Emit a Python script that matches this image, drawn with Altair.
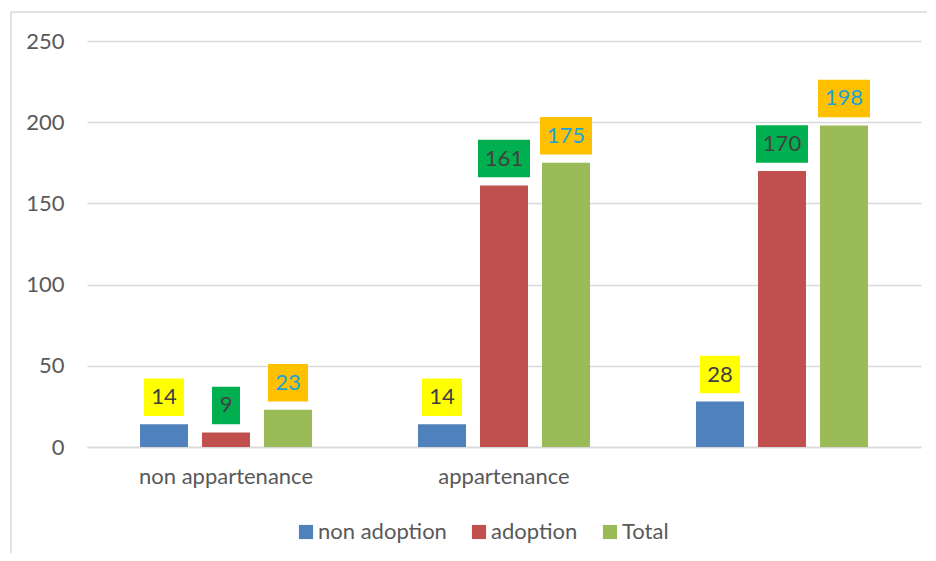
import altair as alt
import pandas as pd

categories = ["non appartenance", "appartenance", ""]
series = ["non adoption", "adoption", "Total"]
non_adoption = [14, 14, 28]
adoption = [9, 161, 170]
total = [23, 175, 198]

bar_colors = ["#4F81BD", "#C0504D", "#9BBB59"]
box_colors = ["#FFFF00", "#00B050", "#FFC000"]

rows = []
for s, vals in zip(series, [non_adoption, adoption, total]):
    for c, v in zip(categories, vals):
        txt = str(v)
        w = 16 + 12 * len(txt)
        h = 37.5
        r = h / w
        rows.append({
            "category": c, "series": s, "value": v, "label": txt,
            "shape": f"M-1,-{r:.4f} L1,-{r:.4f} L1,{r:.4f} L-1,{r:.4f} Z",
            "size": w * w,
        })
df = pd.DataFrame(rows)

FONT = "Lato"
GRID = "#D9D9D9"
FS = 22

x_enc = alt.X("category:N", sort=categories, title=None,
              scale=alt.Scale(paddingInner=0.331, paddingOuter=0.1655),
              axis=alt.Axis(labelAngle=0, ticks=False, domainColor=GRID, domainWidth=1.5,
                            labelFontSize=FS, labelColor="#595959", labelFont=FONT,
                            labelPadding=19, grid=False))
xo_enc = alt.XOffset("series:N", sort=series,
                     scale=alt.Scale(paddingInner=0.226, paddingOuter=0.113))
y_enc = alt.Y("value:Q", title=None,
              scale=alt.Scale(domain=[0, 250], nice=False),
              axis=alt.Axis(values=[0, 50, 100, 150, 200, 250], ticks=False, domain=False,
                            gridColor=GRID, gridWidth=1.5, labelFontSize=FS,
                            labelColor="#595959", labelFont=FONT, labelPadding=23))

bars = alt.Chart(df).mark_bar().encode(
    x=x_enc, xOffset=xo_enc, y=y_enc,
    color=alt.Color("series:N", sort=series,
                    scale=alt.Scale(domain=series, range=bar_colors),
                    legend=alt.Legend(title=None, orient="none", direction="horizontal",
                                      legendX=208, legendY=480,
                                      symbolType="square", symbolSize=200,
                                      symbolStrokeWidth=0, labelFontSize=FS,
                                      labelFont=FONT, labelColor="#595959",
                                      labelOffset=1, columnPadding=21)),
)

boxes = alt.Chart(df).mark_point(filled=True, opacity=1, yOffset=-27, strokeWidth=0).encode(
    x=alt.X("category:N", sort=categories),
    xOffset=alt.XOffset("series:N", sort=series),
    y=alt.Y("value:Q"),
    fill=alt.Fill("series:N", sort=series,
                  scale=alt.Scale(domain=series, range=box_colors), legend=None),
    shape=alt.Shape("shape:N", scale=None),
    size=alt.Size("size:Q", scale=None),
)

texts = alt.Chart(df).mark_text(yOffset=-27, baseline="middle", align="center",
                                fontSize=FS, font=FONT).encode(
    x=alt.X("category:N", sort=categories),
    xOffset=alt.XOffset("series:N", sort=series),
    y=alt.Y("value:Q"),
    text="label:N",
    color=alt.condition("datum.series === 'Total'", alt.value("#1AA3DA"), alt.value("#404040")),
)

frame_data = alt.Data(values=[{"k": 1}])
top_rule = alt.Chart(frame_data).mark_rule(color=GRID, strokeWidth=1.5).encode(
    x=alt.value(-76), x2=alt.value(840), y=alt.value(-29))
left_rule = alt.Chart(frame_data).mark_rule(color=GRID, strokeWidth=1.5).encode(
    x=alt.value(-76), y=alt.value(-29), y2=alt.value(512))

chart = alt.layer(bars, boxes, texts, top_rule, left_rule).resolve_scale(
    fill="independent"
).properties(
    width=834, height=406,
    padding={"left": 2, "top": 3, "right": 0, "bottom": 0},
).configure_view(stroke=None)

chart.save("out.html", embed_options={"renderer": "svg", "actions": False})
